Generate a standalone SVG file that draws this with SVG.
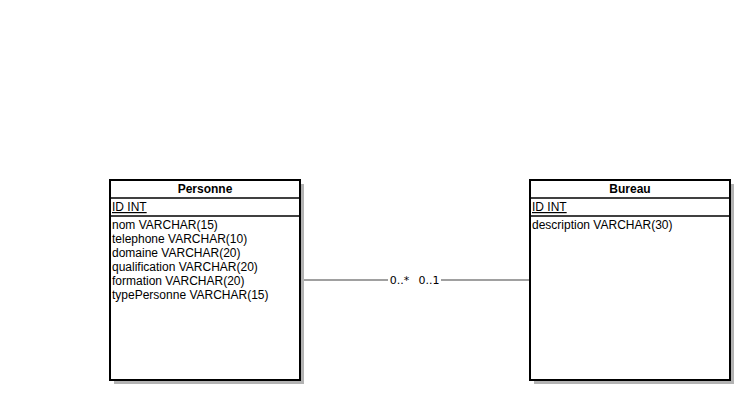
<svg xmlns="http://www.w3.org/2000/svg" width="752" height="400" viewBox="0 0 752 400">
<style>
.shadow{fill:#b3b3b3;stroke:none}
.box{fill:#ffffff;stroke:#000000;stroke-width:2}
.sep{stroke:#000000;stroke-width:1.3;fill:none}
.title{font-family:"Liberation Sans",Arial,sans-serif;font-size:12px;font-weight:bold;fill:#000;text-anchor:middle}
.attr{font-family:"Liberation Sans",Arial,sans-serif;font-size:12px;fill:#000}
.pk{text-decoration:underline}
.edge{stroke:#808080;stroke-width:1.5;fill:none}
.lbl{font-family:"DejaVu Sans",sans-serif;font-size:11px;fill:#000;text-anchor:middle}
</style>
<rect width="752" height="400" fill="#ffffff"/>
<g id="connectors">
<line class="edge" x1="300" y1="280" x2="530" y2="280"/>
<rect x="388" y="272" width="53" height="16" fill="#ffffff"/>
<text class="lbl" x="399.5" y="284">0..*</text>
<text class="lbl" x="429" y="284">0..1</text>
</g>
<g id="Personne">
<rect class="shadow" x="114" y="184" width="190" height="200"/>
<rect class="box" x="110" y="180" width="190" height="200"/>
<line class="sep" x1="110" y1="198" x2="300" y2="198"/>
<line class="sep" x1="110" y1="216" x2="300" y2="216"/>
<text class="title" x="205" y="193">Personne</text>
<text class="attr pk" x="112" y="211">ID INT</text>
<text class="attr" x="112" y="229">nom VARCHAR(15)</text>
<text class="attr" x="112" y="243">telephone VARCHAR(10)</text>
<text class="attr" x="112" y="257">domaine VARCHAR(20)</text>
<text class="attr" x="112" y="271">qualification VARCHAR(20)</text>
<text class="attr" x="112" y="285">formation VARCHAR(20)</text>
<text class="attr" x="112" y="299">typePersonne VARCHAR(15)</text>
</g>
<g id="Bureau">
<rect class="shadow" x="534" y="184" width="200" height="200"/>
<rect class="box" x="530" y="180" width="200" height="200"/>
<line class="sep" x1="530" y1="198" x2="730" y2="198"/>
<line class="sep" x1="530" y1="216" x2="730" y2="216"/>
<text class="title" x="630" y="193">Bureau</text>
<text class="attr pk" x="532" y="211">ID INT</text>
<text class="attr" x="532" y="229">description VARCHAR(30)</text>
</g>
</svg>
